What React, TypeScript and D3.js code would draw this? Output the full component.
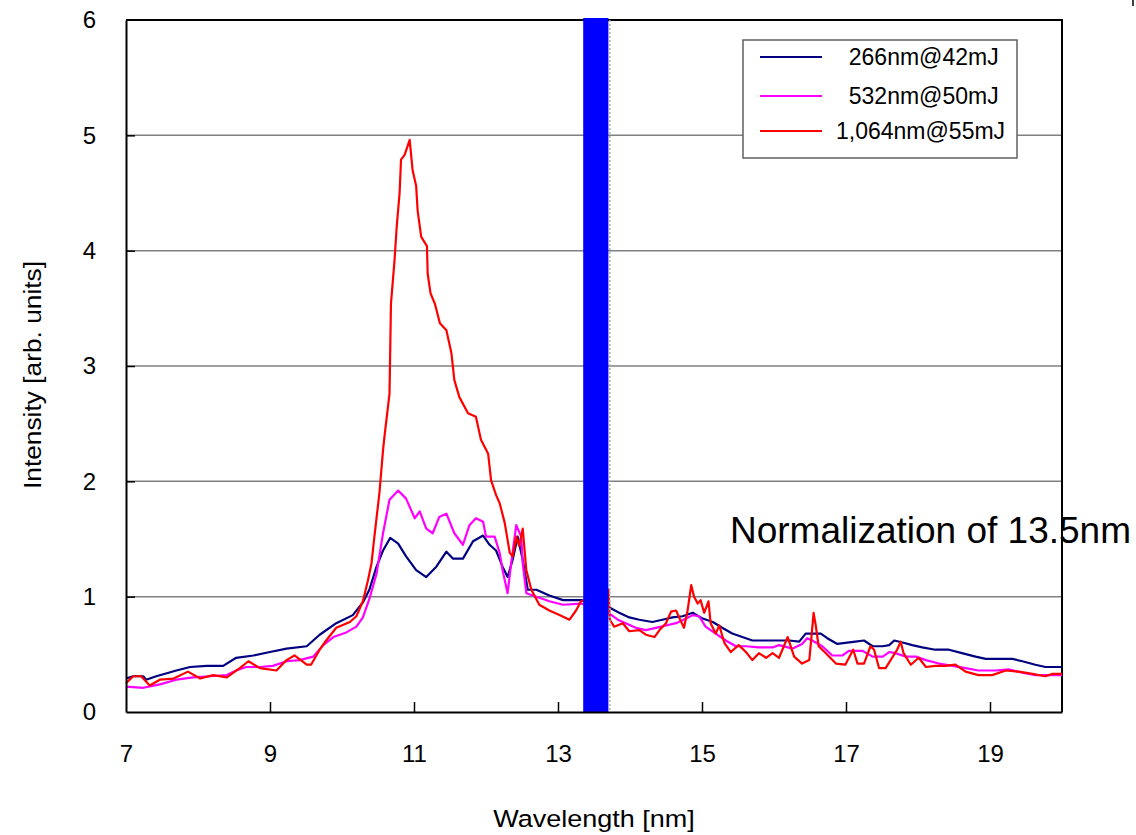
import { useEffect, useRef } from "react";
import * as d3 from "d3";

// [wavelength nm, intensity]
const s266: [number, number][] = [
  [7.0, 0.29], [7.1, 0.31], [7.24, 0.31], [7.28, 0.28], [7.42, 0.31], [7.7, 0.36], [7.89, 0.39],
  [8.12, 0.4], [8.35, 0.4], [8.53, 0.47], [8.77, 0.49], [9.0, 0.52], [9.23, 0.55], [9.51, 0.57],
  [9.69, 0.67], [9.92, 0.77], [10.15, 0.84], [10.29, 0.95], [10.38, 1.06], [10.48, 1.26],
  [10.57, 1.4], [10.67, 1.51], [10.78, 1.46], [10.89, 1.35], [11.03, 1.23], [11.17, 1.17],
  [11.31, 1.26], [11.45, 1.39], [11.54, 1.33], [11.68, 1.33], [11.82, 1.48], [11.96, 1.53],
  [12.05, 1.45], [12.14, 1.4], [12.23, 1.26], [12.3, 1.17], [12.37, 1.32], [12.44, 1.52],
  [12.51, 1.32], [12.58, 1.06], [12.7, 1.06], [12.88, 1.01], [13.07, 0.97], [13.32, 0.97],
  [13.5, 0.95], [13.7, 0.91], [13.85, 0.86], [13.99, 0.82], [14.13, 0.8], [14.31, 0.78],
  [14.45, 0.8], [14.59, 0.82], [14.73, 0.83], [14.87, 0.86], [15.01, 0.81], [15.15, 0.78],
  [15.28, 0.73], [15.42, 0.68], [15.56, 0.65], [15.7, 0.62], [15.89, 0.62], [16.07, 0.62],
  [16.21, 0.62], [16.35, 0.61], [16.44, 0.68], [16.53, 0.68], [16.65, 0.68], [16.74, 0.64],
  [16.88, 0.59], [16.99, 0.6], [17.13, 0.61], [17.25, 0.62], [17.37, 0.57], [17.51, 0.57],
  [17.6, 0.58], [17.67, 0.62], [17.8, 0.6], [17.92, 0.58], [18.06, 0.56], [18.24, 0.54],
  [18.43, 0.54], [18.61, 0.51], [18.8, 0.48], [18.94, 0.46], [19.12, 0.46], [19.31, 0.46],
  [19.45, 0.44], [19.63, 0.41], [19.77, 0.39], [20.0, 0.39],
];

const s532: [number, number][] = [
  [7.0, 0.22], [7.24, 0.21], [7.47, 0.24], [7.7, 0.28], [7.93, 0.3], [8.17, 0.31], [8.4, 0.32],
  [8.53, 0.36], [8.67, 0.39], [8.86, 0.39], [9.04, 0.4], [9.23, 0.44], [9.41, 0.45], [9.6, 0.48],
  [9.74, 0.58], [9.88, 0.65], [10.06, 0.69], [10.2, 0.74], [10.29, 0.82], [10.38, 0.98],
  [10.48, 1.2], [10.57, 1.55], [10.66, 1.84], [10.78, 1.92], [10.89, 1.85], [11.01, 1.68],
  [11.08, 1.74], [11.17, 1.59], [11.26, 1.55], [11.35, 1.69], [11.45, 1.72], [11.56, 1.55],
  [11.68, 1.45], [11.77, 1.62], [11.86, 1.68], [11.96, 1.65], [12.0, 1.52], [12.12, 1.52],
  [12.19, 1.38], [12.23, 1.23], [12.3, 1.03], [12.35, 1.29], [12.42, 1.62], [12.49, 1.52],
  [12.51, 1.29], [12.56, 1.03], [12.7, 1.0], [12.88, 0.96], [13.07, 0.93], [13.32, 0.94],
  [13.5, 0.9], [13.7, 0.86], [13.83, 0.8], [13.94, 0.77], [14.08, 0.73], [14.22, 0.71],
  [14.36, 0.73], [14.5, 0.75], [14.64, 0.77], [14.78, 0.81], [14.87, 0.84], [14.96, 0.83],
  [15.05, 0.74], [15.19, 0.68], [15.33, 0.62], [15.47, 0.57], [15.61, 0.57], [15.79, 0.56],
  [15.98, 0.56], [16.07, 0.58], [16.26, 0.55], [16.39, 0.59], [16.46, 0.64], [16.53, 0.62],
  [16.67, 0.57], [16.81, 0.49], [16.95, 0.49], [17.04, 0.53], [17.23, 0.53], [17.37, 0.48],
  [17.51, 0.48], [17.6, 0.52], [17.69, 0.51], [17.83, 0.48], [17.97, 0.48], [18.11, 0.45],
  [18.29, 0.42], [18.48, 0.4], [18.66, 0.38], [18.84, 0.36], [19.08, 0.36], [19.26, 0.37],
  [19.45, 0.34], [19.63, 0.32], [19.77, 0.32], [20.0, 0.32],
];

const s1064: [number, number][] = [
  [7.0, 0.25], [7.1, 0.31], [7.21, 0.31], [7.33, 0.23], [7.47, 0.28], [7.66, 0.29], [7.86, 0.35],
  [8.03, 0.29], [8.21, 0.32], [8.4, 0.3], [8.58, 0.38], [8.7, 0.44], [8.86, 0.38], [9.09, 0.36],
  [9.23, 0.45], [9.34, 0.49], [9.51, 0.41], [9.57, 0.41], [9.69, 0.54], [9.78, 0.62],
  [9.92, 0.73], [10.11, 0.78], [10.2, 0.83], [10.29, 0.96], [10.36, 1.14], [10.41, 1.29],
  [10.45, 1.52], [10.52, 1.9], [10.57, 2.27], [10.59, 2.39], [10.66, 2.76], [10.68, 3.54],
  [10.73, 3.92], [10.76, 4.21], [10.8, 4.5], [10.82, 4.79], [10.87, 4.83], [10.94, 4.96],
  [10.98, 4.7], [11.03, 4.56], [11.05, 4.35], [11.1, 4.12], [11.18, 4.04], [11.19, 3.8],
  [11.23, 3.63], [11.29, 3.54], [11.36, 3.37], [11.45, 3.31], [11.52, 3.11], [11.56, 2.88],
  [11.63, 2.73], [11.75, 2.59], [11.86, 2.56], [11.93, 2.36], [12.03, 2.24], [12.07, 2.01],
  [12.14, 1.88], [12.19, 1.81], [12.26, 1.64], [12.33, 1.38], [12.37, 1.35], [12.42, 1.52],
  [12.46, 1.44], [12.51, 1.59], [12.56, 1.23], [12.63, 1.06], [12.74, 0.93], [12.88, 0.88],
  [13.02, 0.84], [13.16, 0.8], [13.25, 0.88], [13.32, 0.96], [13.5, 1.0], [13.68, 1.0],
  [13.7, 1.06], [13.72, 0.8], [13.78, 0.74], [13.9, 0.77], [13.99, 0.7], [14.13, 0.71],
  [14.22, 0.67], [14.34, 0.65], [14.41, 0.71], [14.5, 0.77], [14.57, 0.87], [14.64, 0.88],
  [14.69, 0.81], [14.75, 0.73], [14.8, 0.88], [14.85, 1.1], [14.89, 1.0], [14.94, 0.94],
  [14.98, 0.97], [15.03, 0.86], [15.09, 0.96], [15.12, 0.77], [15.19, 0.68], [15.24, 0.75],
  [15.31, 0.6], [15.4, 0.52], [15.51, 0.58], [15.61, 0.52], [15.7, 0.45], [15.79, 0.51],
  [15.89, 0.47], [15.98, 0.51], [16.07, 0.47], [16.19, 0.65], [16.28, 0.48], [16.39, 0.42],
  [16.49, 0.45], [16.52, 0.65], [16.55, 0.86], [16.58, 0.75], [16.62, 0.57], [16.72, 0.51],
  [16.86, 0.42], [16.99, 0.41], [17.1, 0.54], [17.16, 0.42], [17.25, 0.42], [17.34, 0.57],
  [17.39, 0.54], [17.46, 0.38], [17.55, 0.38], [17.62, 0.45], [17.71, 0.54], [17.76, 0.61],
  [17.8, 0.51], [17.9, 0.41], [18.01, 0.47], [18.11, 0.39], [18.24, 0.4], [18.38, 0.4],
  [18.52, 0.41], [18.66, 0.35], [18.84, 0.32], [19.03, 0.32], [19.22, 0.36], [19.4, 0.35],
  [19.59, 0.33], [19.77, 0.31], [19.86, 0.33], [20.0, 0.33],
];

const seriesNames = ["  266nm@42mJ", "  532nm@50mJ", "1,064nm@55mJ"];
const seriesColors = ["#000080", "#ff00ff", "#ff0000"];
const xTicks = [7, 9, 11, 13, 15, 17, 19];
const yTicks = [0, 1, 2, 3, 4, 5, 6];
const band = [13.35, 13.7]; // normalization window, nm
const bandLabel = "Normalization of 13.5nm";

export default function App() {
  const ref = useRef<SVGSVGElement>(null);

  useEffect(() => {
    const svg = d3.select(ref.current);
    svg.selectAll("*").remove();
    const font = "'Liberation Sans', Arial, sans-serif";

    const x = d3.scaleLinear().domain([7, 20]).range([126, 1062]);
    const y = d3.scaleLinear().domain([0, 6]).range([712, 20]);

    // grid
    svg.append("g")
      .selectAll("line")
      .data(yTicks.filter((d) => d > 0 && d < 6))
      .join("line")
      .attr("x1", x(7)).attr("x2", x(20))
      .attr("y1", (d) => y(d)).attr("y2", (d) => y(d))
      .attr("stroke", "#808080").attr("stroke-width", 1.5);

    // frame (top / right)
    svg.append("path")
      .attr("d", `M${x(7)},${y(6)}H${x(20)}V${y(0)}`)
      .attr("fill", "none").attr("stroke", "#000").attr("stroke-width", 2);

    const line = d3.line<[number, number]>().x((d) => x(d[0])).y((d) => y(d[1]));
    [s266, s532, s1064].forEach((s, i) => {
      svg.append("path")
        .datum(s)
        .attr("d", line)
        .attr("fill", "none")
        .attr("stroke", seriesColors[i])
        .attr("stroke-width", 2.2)
        .attr("stroke-linejoin", "round");
    });

    // normalization band
    svg.append("rect")
      .attr("x", x(band[0])).attr("width", x(band[1]) - x(band[0]))
      .attr("y", y(6) - 2).attr("height", y(0) - y(6) + 2)
      .attr("fill", "#0000ff");
    svg.append("line")
      .attr("x1", x(band[1]) + 1.5).attr("x2", x(band[1]) + 1.5)
      .attr("y1", y(6)).attr("y2", y(0))
      .attr("stroke", "#b0b0b0").attr("stroke-width", 1.5)
      .attr("stroke-dasharray", "2,2");

    // axes
    const ax = svg.append("g")
      .attr("transform", `translate(0,${y(0)})`)
      .call(d3.axisBottom(x).tickValues(xTicks).tickSizeInner(-10).tickSizeOuter(0).tickPadding(33).tickFormat(d3.format("d")));
    const ay = svg.append("g")
      .attr("transform", `translate(${x(7)},0)`)
      .call(d3.axisLeft(y).tickValues(yTicks).tickSizeInner(-9).tickSizeOuter(0).tickPadding(30).tickFormat(d3.format("d")));
    [ax, ay].forEach((g) => {
      g.select(".domain").attr("stroke", "#000").attr("stroke-width", 2);
      g.selectAll(".tick line").attr("stroke", "#000").attr("stroke-width", 1.5);
      g.selectAll(".tick text")
        .attr("fill", "#000")
        .style("font-family", font)
        .style("font-size", "24px");
    });
    ax.selectAll(".tick").filter((d) => d === 7).select("line").remove();
    ay.selectAll(".tick").filter((d) => d === 0 || d === 6).select("line").remove();

    // axis titles (the original text is drawn a little wide)
    svg.append("text")
      .attr("transform", "translate(594,827) scale(1.15,1)")
      .attr("text-anchor", "middle")
      .style("font-family", font).style("font-size", "23.5px")
      .text("Wavelength [nm]");
    svg.append("text")
      .attr("transform", "translate(41,375) rotate(-90) scale(1.12,1)")
      .attr("text-anchor", "middle")
      .style("font-family", font).style("font-size", "23.5px")
      .text("Intensity [arb. units]");

    // band label
    svg.append("text")
      .attr("x", 730).attr("y", 543)
      .style("font-family", font).style("font-size", "37px")
      .text(bandLabel);

    // legend
    const lg = svg.append("g");
    lg.append("rect")
      .attr("x", 743).attr("y", 40).attr("width", 274).attr("height", 118)
      .attr("fill", "#fff").attr("stroke", "#606060").attr("stroke-width", 1.5);
    const rows = lg.selectAll("g.row")
      .data(seriesNames)
      .join("g")
      .attr("class", "row")
      .attr("transform", (_, i) => `translate(0,${[57, 96, 131][i]})`);
    rows.append("line")
      .attr("x1", 760).attr("x2", 822)
      .attr("stroke", (_, i) => seriesColors[i]).attr("stroke-width", 2);
    rows.append("text")
      .attr("x", 836).attr("y", 8)
      .style("white-space", "pre")
      .style("font-family", font).style("font-size", "23px")
      .text((d) => d);

    // stray mark at the top-right corner of the original
    svg.append("line")
      .attr("x1", 1133).attr("x2", 1133).attr("y1", 0).attr("y2", 6)
      .attr("stroke", "#000").attr("stroke-width", 1.5);
  }, []);

  return (
    <svg
      ref={ref}
      width={1136}
      height={835}
      style={{ position: "absolute", left: 0, top: 0, background: "#fff" }}
      role="img"
      aria-label="Intensity vs wavelength spectra"
    />
  );
}
